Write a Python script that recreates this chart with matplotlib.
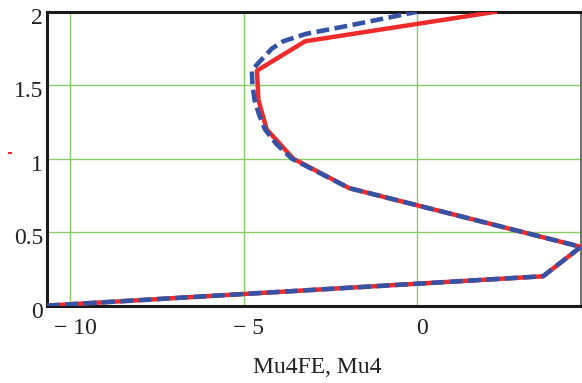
import matplotlib
matplotlib.use("Agg")
import matplotlib.pyplot as plt
from matplotlib.lines import Line2D
from matplotlib.transforms import ScaledTranslation

# Mu4 (coarse solution, red) and Mu4FE (finer FE solution, blue dashed)
y_mu4 = [0.0, 0.2, 0.4, 0.6, 0.8, 1.0, 1.2, 1.4, 1.6, 1.8, 2.0]
mu4 = [-10.67, 3.65, 4.74, 1.41, -1.95, -3.56, -4.33, -4.57, -4.61, -3.22, 2.26]

y_mu4fe = [0.0, 0.2, 0.4, 0.6, 0.8, 1.0, 1.1, 1.2, 1.3, 1.4, 1.5, 1.6,
           1.65, 1.7, 1.75, 1.8, 1.85, 1.9, 1.95, 2.0]
mu4fe = [-10.67, 3.65, 4.74, 1.41, -1.95, -3.6, -4.05, -4.38, -4.55, -4.68, -4.74, -4.76,
         -4.58, -4.38, -4.18, -3.85, -3.2, -2.1, -1.05, 0.0]

x_ticks = [-10, -5, 0]
x_tick_labels = ["\u2212 10", "\u2212 5", "0"]
y_ticks = [0, 0.5, 1, 1.5, 2]
y_tick_labels = ["0", "0.5", "1", "1.5", "2"]

plt.rcParams["font.family"] = ["Liberation Serif", "DejaVu Serif"]

fig = plt.figure(figsize=(5.82, 3.83), dpi=100)
ax = fig.add_axes([0.081, 0.202, 0.917, 0.767])

ax.plot(mu4, y_mu4, color="#ee2a2a", linewidth=3.2, solid_joinstyle="miter", zorder=3)
ax.plot(mu4fe, y_mu4fe, color="#3553a5", linewidth=3.3, dashes=(2.8, 1.2), zorder=4)

ax.set_xlim(min(mu4), max(mu4))
ax.set_ylim(0, 2)
ax.set_xticks(x_ticks)
ax.set_xticklabels(x_tick_labels)
ax.set_yticks(y_ticks)
ax.set_yticklabels(y_tick_labels)
ax.tick_params(length=0, labelsize=17, colors="#222222")
ax.tick_params(axis="y", pad=3)
ax.tick_params(axis="x", pad=9)

# Mathcad-style label placement: x labels a bit right, y labels a bit low
for lab in ax.get_xticklabels():
    lab.set_transform(lab.get_transform() + ScaledTranslation(0.05, 0, fig.dpi_scale_trans))
for lab in ax.get_yticklabels():
    lab.set_transform(lab.get_transform() + ScaledTranslation(0, -0.04, fig.dpi_scale_trans))

ax.grid(True, color="#88cc66", linewidth=1.0)
ax.set_axisbelow(True)

for side in ["left", "bottom", "top"]:
    ax.spines[side].set_linewidth(2.2)
    ax.spines[side].set_color("#1a1a1a")
ax.spines["right"].set_linewidth(1.2)
ax.spines["right"].set_color("#555555")

ax.set_xlabel("Mu4FE, Mu4", fontsize=17, color="#222222", labelpad=13)
ax.xaxis.label.set_transform(ax.xaxis.label.get_transform()
                             + ScaledTranslation(0.03, 0, fig.dpi_scale_trans))

# small stray red mark on the left edge
fig.add_artist(Line2D([0.016, 0.019], [0.601, 0.601], color="#ee2a2a", linewidth=1.5))

fig.savefig("out.png", dpi=100)
